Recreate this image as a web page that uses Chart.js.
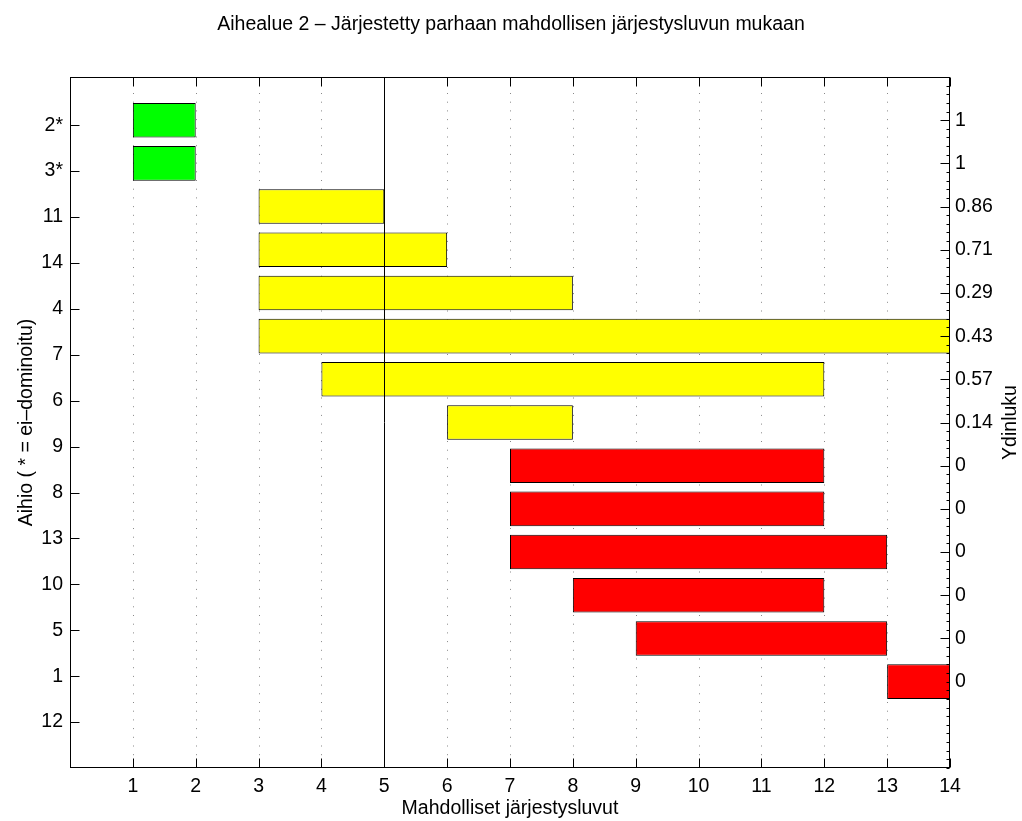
<!DOCTYPE html>
<html>
<head>
<meta charset="utf-8">
<script src="https://cdn.jsdelivr.net/npm/chart.js@4/dist/chart.umd.min.js"></script>
<style>
  html, body { margin: 0; padding: 0; background: #fff; }
  #wrap { width: 1022px; height: 821px; }
</style>
</head>
<body>
<div id="wrap"><canvas id="barChart"></canvas></div>
<script>
// Rows from top to bottom
const aihiot = ['2*', '3*', '11', '14', '4', '7', '6', '9', '8', '13', '10', '5', '1', '12'];
const alku = [1, 1, 3, 3, 3, 3, 4, 6, 7, 7, 7, 8, 9, 13];
const loppu = [2, 2, 5, 6, 8, 14, 12, 8, 12, 12, 13, 12, 13, 14];
const ydinluku = ['1', '1', '0.86', '0.71', '0.29', '0.43', '0.57', '0.14', '0', '0', '0', '0', '0', '0'];
const xTicks = [1, 2, 3, 4, 5, 6, 7, 8, 9, 10, 11, 12, 13, 14];
const cutoff = 5;

const fontFamily = "'Liberation Sans', Arial, Helvetica, sans-serif";
const tickFont = { family: fontFamily, size: 19.5 };

// colour by core value: 1 green, 0 red, otherwise yellow
function barColor(v) {
  const n = parseFloat(v);
  if (n === 1) return '#00ff00';
  if (n === 0) return '#ff0000';
  return '#ffff00';
}

const rowTicks = aihiot.map((_, i) => ({ value: i + 1 }));

// MATLAB style box, ticks and grid
const matlabAxes = {
  id: 'matlabAxes',
  beforeDatasetsDraw(chart) {
    const { ctx, chartArea: a, scales: { x } } = chart;
    ctx.save();
    ctx.strokeStyle = '#888';
    ctx.lineWidth = 1;
    ctx.setLineDash([1, 7.7]);
    xTicks.slice(0, -1).forEach(v => {
      const px = Math.round(x.getPixelForValue(v)) + 0.5;
      ctx.beginPath();
      ctx.moveTo(px, a.top + 16);
      ctx.lineTo(px, a.bottom - 9);
      ctx.stroke();
    });
    ctx.restore();
  },
  afterDatasetsDraw(chart) {
    const { ctx, chartArea: a, scales: { x, yLeft, yRight } } = chart;
    const L = Math.round(a.left) + 0.5, R = Math.round(a.right) - 0.5;
    const T = Math.round(a.top) + 0.5, B = Math.round(a.bottom) - 0.5;
    ctx.save();
    ctx.strokeStyle = '#000';
    ctx.lineWidth = 1;

    // solid reference line
    const cx = Math.round(x.getPixelForValue(cutoff)) + 0.5;
    ctx.beginPath();
    ctx.moveTo(cx, T);
    ctx.lineTo(cx, B);
    ctx.stroke();

    ctx.strokeRect(L, T, R - L, B - T);

    ctx.beginPath();
    xTicks.forEach(v => {
      const px = Math.round(x.getPixelForValue(v)) + 0.5;
      ctx.moveTo(px, T); ctx.lineTo(px, T + 9);
      ctx.moveTo(px, B); ctx.lineTo(px, B - 9);
    });
    rowTicks.forEach(t => {
      const py = Math.round(yLeft.getPixelForValue(t.value)) + 0.5;
      ctx.moveTo(L, py); ctx.lineTo(L + 9, py);
    });
    rowTicks.slice(0, -1).forEach(t => {
      const py = Math.round(yRight.getPixelForValue(t.value)) + 0.5;
      ctx.moveTo(R, py); ctx.lineTo(R - 9, py);
    });
    for (let k = 0; k <= 80; k++) {
      const py = Math.round(yRight.getPixelForValue(k * 0.2)) + 0.5;
      ctx.moveTo(R, py); ctx.lineTo(R - 3, py);
    }
    ctx.stroke();

    // right axis title, reading bottom to top
    ctx.fillStyle = '#000';
    ctx.font = '19.5px ' + fontFamily;
    ctx.textAlign = 'center';
    ctx.textBaseline = 'middle';
    ctx.translate(1011, (a.top + a.bottom) / 2);
    ctx.rotate(-Math.PI / 2);
    ctx.fillText('Ydinluku', 0, 0);
    ctx.restore();
  }
};

const ctx = document.getElementById('barChart').getContext('2d');
const myChart = new Chart(ctx, {
  type: 'bar',
  data: {
    datasets: [{
      data: alku.map((a, i) => ({ x: [a, loppu[i]], y: i + 1 })),
      backgroundColor: ydinluku.map(barColor),
      borderColor: '#000',
      borderWidth: 1,
      borderSkipped: false,
      categoryPercentage: 0.8,
      barPercentage: 1.0,
      xAxisID: 'x',
      yAxisID: 'yBar'
    }]
  },
  options: {
    indexAxis: 'y',
    responsive: true,
    maintainAspectRatio: false,
    animation: false,
    layout: { padding: 0 },
    scales: {
      x: {
        type: 'linear',
        position: 'bottom',
        min: 0,
        max: 14,
        afterBuildTicks: s => { s.ticks = xTicks.map(v => ({ value: v })); },
        afterFit: s => { s.height = 53; },
        grid: { display: false, drawTicks: false },
        border: { display: false },
        ticks: { font: tickFont, color: '#000', padding: 7, maxRotation: 0, autoSkip: false },
        title: {
          display: true,
          text: 'Mahdolliset järjestysluvut',
          font: tickFont,
          color: '#000',
          padding: { top: 0, bottom: 0.3 }
        }
      },
      yBar: {
        type: 'linear',
        display: false,
        offset: false,
        reverse: true,
        min: 0,
        max: 16
      },
      yLeft: {
        type: 'linear',
        position: 'left',
        offset: false,
        reverse: true,
        min: -0.05,
        max: 15,
        afterBuildTicks: s => { s.ticks = rowTicks.map(t => ({ value: t.value })); },
        afterFit: s => { s.width = 70; },
        grid: { display: false, drawTicks: false, offset: false },
        border: { display: false },
        ticks: {
          font: tickFont,
          color: '#000',
          padding: 7,
          autoSkip: false,
          callback: value => aihiot[value - 1]
        },
        title: {
          display: true,
          text: 'Aihio ( * = ei–dominoitu)',
          font: tickFont,
          color: '#000',
          padding: { top: 15, bottom: 0 }
        }
      },
      yRight: {
        type: 'linear',
        position: 'right',
        offset: false,
        reverse: true,
        min: 0,
        max: 16,
        afterBuildTicks: s => { s.ticks = rowTicks.map(t => ({ value: t.value })); },
        afterFit: s => { s.width = 72; },
        grid: { display: false, drawTicks: false, offset: false },
        border: { display: false },
        ticks: {
          font: tickFont,
          color: '#000',
          padding: 5,
          autoSkip: false,
          callback: value => ydinluku[value - 1]
        }
      }
    },
    plugins: {
      legend: { display: false },
      tooltip: { enabled: false },
      title: {
        display: true,
        text: 'Aihealue 2 – Järjestetty parhaan mahdollisen järjestysluvun mukaan',
        font: { family: fontFamily, size: 19.5, weight: 'normal' },
        color: '#000',
        padding: { top: 12.5, bottom: 41.1 }
      }
    }
  },
  plugins: [matlabAxes]
});
</script>
</body>
</html>
